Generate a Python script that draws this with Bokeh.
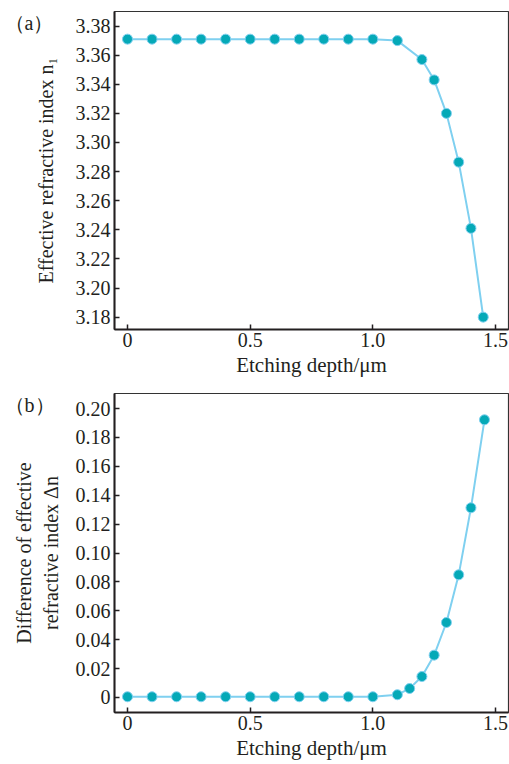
from bokeh.plotting import figure
from bokeh.layouts import column
from bokeh.models import Range1d, FixedTicker, Title
from bokeh.embed import file_html
from bokeh.resources import INLINE

# ---- data ----
depth_a = [0, 0.1, 0.2, 0.3, 0.4, 0.5, 0.6, 0.7, 0.8, 0.9, 1.0, 1.1, 1.2, 1.25, 1.3, 1.35, 1.4, 1.45]
n1 = [3.371, 3.371, 3.371, 3.371, 3.371, 3.371, 3.371, 3.371, 3.371, 3.371, 3.371, 3.370,
      3.357, 3.343, 3.320, 3.2865, 3.241, 3.180]

depth_b = [0, 0.1, 0.2, 0.3, 0.4, 0.5, 0.6, 0.7, 0.8, 0.9, 1.0, 1.1, 1.15, 1.2, 1.25, 1.3, 1.35, 1.4, 1.455]
dn = [0.0005, 0.0005, 0.0005, 0.0005, 0.0005, 0.0005, 0.0005, 0.0005, 0.0005, 0.0005, 0.0005,
      0.0019, 0.0062, 0.0145, 0.0293, 0.0519, 0.0849, 0.1313, 0.1922]

x_ticks = [0, 0.5, 1.0, 1.5]
x_tick_labels = ["0", "0.5", "1.0", "1.5"]
ya_ticks = [3.18, 3.20, 3.22, 3.24, 3.26, 3.28, 3.30, 3.32, 3.34, 3.36, 3.38]
ya_tick_labels = ["3.18", "3.20", "3.22", "3.24", "3.26", "3.28", "3.30", "3.32", "3.34", "3.36", "3.38"]
yb_ticks = [0, 0.02, 0.04, 0.06, 0.08, 0.10, 0.12, 0.14, 0.16, 0.18, 0.20]
yb_tick_labels = ["0", "0.02", "0.04", "0.06", "0.08", "0.10", "0.12", "0.14", "0.16", "0.18", "0.20"]

FONT = "Liberation Serif"
LINE_C = "#7fd0f0"
MARK_C = "#05a9b7"
TXT_C = "#231f20"


def make(xs, ys, yr, yticks, ylabels, ylab, panel, top, bottom, standoff):
    p = figure(width=509, height=382, output_backend="svg", toolbar_location=None,
               x_range=Range1d(-0.053, 1.553), y_range=yr,
               min_border_left=114, min_border_right=1, min_border_top=top,
               min_border_bottom=bottom)
    p.xgrid.visible = False
    p.ygrid.visible = False
    p.outline_line_color = "#333333"
    p.outline_line_width = 1.2
    p.background_fill_color = "white"
    p.border_fill_color = "white"

    p.line(xs, ys, line_color=LINE_C, line_width=2)
    p.scatter(xs, ys, size=10, fill_color=MARK_C, line_color=LINE_C, line_width=1)

    for ax in (p.xaxis[0], p.yaxis[0]):
        ax.axis_line_width = 2
        ax.axis_line_color = TXT_C
        ax.major_tick_in = 5
        ax.major_tick_out = 0
        ax.major_tick_line_width = 1.5
        ax.major_tick_line_color = TXT_C
        ax.minor_tick_line_color = None
        ax.major_label_text_font = FONT
        ax.major_label_text_font_size = "20px"
        ax.major_label_text_color = TXT_C
        ax.axis_label_text_font = FONT
        ax.axis_label_text_font_size = "20px"
        ax.axis_label_text_font_style = "normal"
        ax.axis_label_text_color = TXT_C

    p.xaxis[0].ticker = FixedTicker(ticks=x_ticks)
    p.xaxis[0].major_label_overrides = dict(zip(x_ticks, x_tick_labels))
    p.xaxis[0].axis_label = "Etching depth/\u03bcm"
    p.xaxis[0].axis_label_text_font_size = "21px"
    p.xaxis[0].major_label_standoff = 3
    p.xaxis[0].axis_label_standoff = 3

    p.yaxis[0].ticker = FixedTicker(ticks=yticks)
    p.yaxis[0].major_label_overrides = dict(zip(yticks, ylabels))
    p.yaxis[0].axis_label = ylab
    p.yaxis[0].major_label_standoff = 4
    p.yaxis[0].axis_label_standoff = standoff

    # panel tag in the top-left corner (leading blank line pushes it down)
    p.add_layout(Title(text="\n" + panel, align="left", vertical_align="top", offset=-110,
                       standoff=-49, text_font=FONT, text_font_size="20px",
                       text_line_height=1.2,
                       text_font_style="normal", text_color=TXT_C), "above")
    return p


pa = make(depth_a, n1, Range1d(3.1715, 3.390), ya_ticks, ya_tick_labels,
          "Effective refractive index n\u2081", "\uff08a\uff09", 11, 53, 16)
pb = make(depth_b, dn, Range1d(-0.0104, 0.2104), yb_ticks, yb_tick_labels,
          "Difference of effective\nrefractive index \u0394n", "\uff08b\uff09", 11, 52, 11)

layout = column(pa, pb, spacing=0)
open("out.html", "w").write(file_html(layout, INLINE))
